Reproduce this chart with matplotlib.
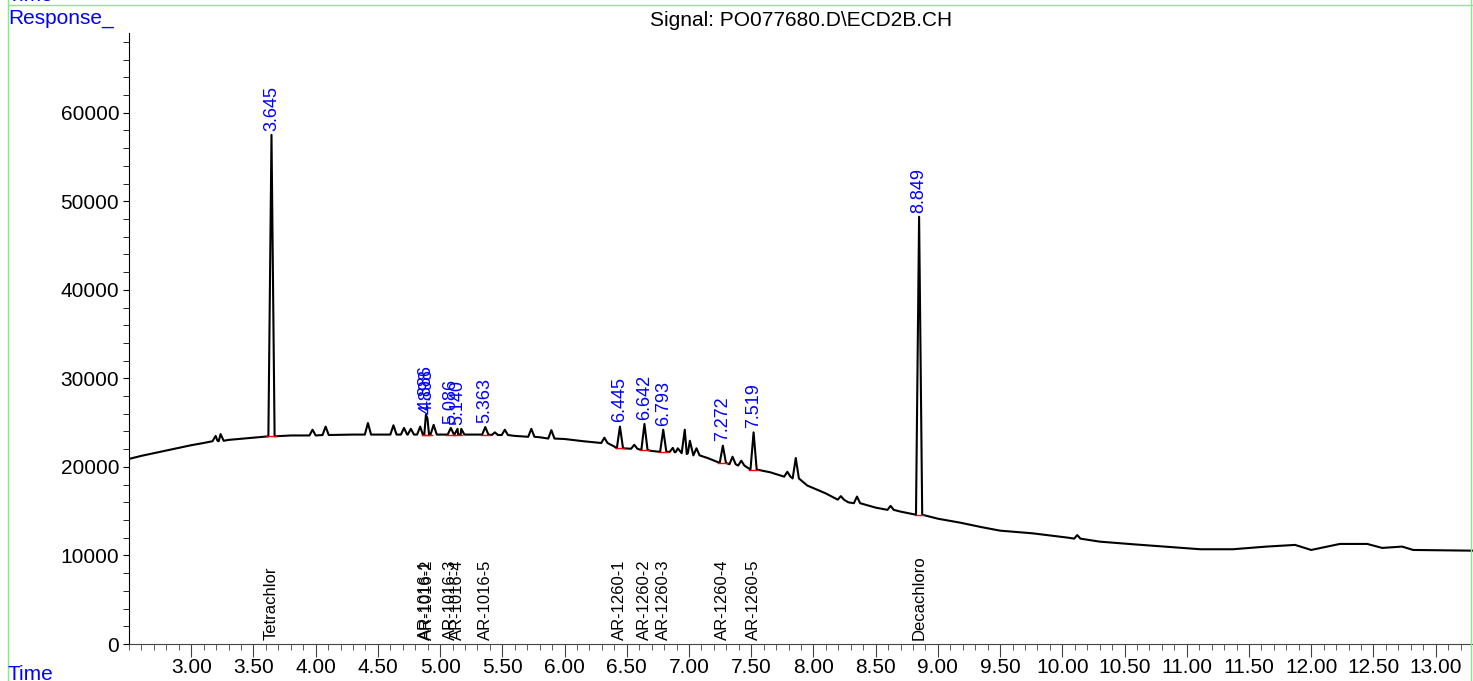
import numpy as np
import matplotlib
matplotlib.use("Agg")
import matplotlib.pyplot as plt
from matplotlib.lines import Line2D
from matplotlib.ticker import MultipleLocator, FixedLocator, FormatStrFormatter

plt.rcParams['font.family'] = ['Liberation Sans', 'DejaVu Sans']

# baseline of the trace (time in min, response)
base_t = [2.50, 2.60, 2.70, 2.80, 2.90, 3.00, 3.10, 3.30, 3.50, 3.80, 4.30, 5.00,
          5.60, 5.80, 6.00, 6.15, 6.30, 6.40, 6.70, 7.15, 7.45, 7.65, 7.95, 8.10,
          8.28, 8.50, 8.70, 9.00, 9.18, 9.35, 9.50, 9.76, 10.05, 10.30, 10.57,
          11.11, 11.37, 11.64, 11.87, 12.00, 12.23, 12.45, 12.57, 12.73, 12.82, 13.30]
base_v = [20900, 21250, 21550, 21850, 22150, 22450, 22700, 23050, 23300, 23550, 23650, 23650,
          23500, 23350, 23150, 22900, 22650, 22300, 21800, 21000, 20100, 19400, 17900, 17000,
          16000, 15400, 14950, 14150, 13700, 13200, 12800, 12500, 12000, 11560, 11260,
          10700, 10700, 11000, 11190, 10620, 11300, 11300, 10850, 11000, 10620, 10540]

# small unlabelled peaks: time, apex, foot level
minor_t = [3.196, 3.236, 3.975, 4.080, 4.420, 4.625, 4.710, 4.765, 4.840, 4.948,
           5.170, 5.440, 5.520, 5.733, 5.894, 6.320, 6.560, 6.870, 6.910, 6.966,
           7.007, 7.060, 7.350, 7.420, 7.790, 7.858, 8.220, 8.350, 8.620, 10.120]
minor_top = [23500, 23700, 24200, 24550, 24950, 24700, 24400, 24300, 24550, 24750,
             24300, 23900, 24200, 24300, 24150, 23300, 22500, 22150, 22100, 24200,
             22950, 22100, 21150, 20700, 19450, 21000, 16700, 16650, 15600, 12300]
minor_base = [22900, 22950, 23550, 23600, 23650, 23650, 23650, 23650, 23650, 23650,
              23650, 23600, 23600, 23400, 23200, 22700, 22050, 21700, 21650, 21550,
              21450, 21300, 20300, 20150, 18900, 18700, 16300, 15900, 15150, 11900]

# identified peaks
peak_t = [3.645, 4.886, 4.898, 5.086, 5.140, 5.363, 6.445, 6.642, 6.793, 7.272, 7.519, 8.849]
peak_lbl = ["3.645", "4.886", "4.898", "5.086", "5.140", "5.363", "6.445", "6.642",
            "6.793", "7.272", "7.519", "8.849"]
peak_top = [57500, 25900, 25500, 24400, 24300, 24500, 24550, 24850, 24200, 22400, 23900, 48250]
peak_base = [23450, 23650, 23650, 23650, 23650, 23650, 22100, 21900, 21700, 20450, 19700, 14600]
peak_name = ["Tetrachlor", "AR-1016-1", "AR-1016-2", "AR-1016-3", "AR-1016-4", "AR-1016-5",
             "AR-1260-1", "AR-1260-2", "AR-1260-3", "AR-1260-4", "AR-1260-5", "Decachloro"]

x_ticks = [3.0, 3.5, 4.0, 4.5, 5.0, 5.5, 6.0, 6.5, 7.0, 7.5, 8.0, 8.5, 9.0, 9.5,
           10.0, 10.5, 11.0, 11.5, 12.0, 12.5, 13.0]

half = 0.025

# assemble trace: baseline points + each peak as foot / apex / foot
all_pk_t = minor_t + peak_t
all_pk_top = minor_top + peak_top
all_pk_base = minor_base + peak_base
pts = []
for t, v in zip(base_t, base_v):
    if all(abs(t - p) > half for p in all_pk_t):
        pts.append((t, v))
for t, top, b in zip(all_pk_t, all_pk_top, all_pk_base):
    pts += [(t - half, b), (t, top), (t + half, b)]
pts.sort()
tr_t = [p[0] for p in pts]
tr_v = [p[1] for p in pts]

fig = plt.figure(figsize=(14.73, 6.81), dpi=100)
ax = fig.add_axes([129/1473, 37/681, 1344/1473, 611/681])

ax.plot(tr_t, tr_v, color='black', lw=1.5)
for t, b in zip(peak_t, peak_base):
    ax.plot([t - 0.035, t + 0.035], [b, b], color='red', lw=1.0)

for t, top, lbl in zip(peak_t, peak_top, peak_lbl):
    ax.annotate(lbl, xy=(t, top), xytext=(0, 3), textcoords='offset points',
                rotation=90, ha='center', va='bottom', color='blue', fontsize=13)
for t, name in zip(peak_t, peak_name):
    ax.annotate(name, xy=(t, 0), xytext=(0, 3), textcoords='offset points',
                rotation=90, ha='center', va='bottom', color='black', fontsize=12)

ax.set_xlim(2.5, 13.3)
ax.set_ylim(0, 69000)
ax.xaxis.set_major_locator(FixedLocator(x_ticks))
ax.xaxis.set_minor_locator(MultipleLocator(0.1))
ax.xaxis.set_major_formatter(FormatStrFormatter('%.2f'))
ax.yaxis.set_major_locator(MultipleLocator(10000))
ax.yaxis.set_minor_locator(MultipleLocator(2000))
ax.spines['top'].set_visible(False)
ax.spines['right'].set_visible(False)
ax.spines['bottom'].set_color('#444444')
ax.tick_params(axis='x', which='major', length=9, pad=1, labelsize=15, color='#444444')
ax.tick_params(axis='x', which='minor', length=4.5, color='#444444')
ax.tick_params(axis='y', which='major', length=4, pad=3, labelsize=15)
ax.tick_params(axis='y', which='minor', length=4)

fig.text(801/1473, 1 - 20/681, 'Signal: PO077680.D\\ECD2B.CH', ha='center', va='center', fontsize=15)
fig.text(8/1473, 1 - 19/681, 'Response_', ha='left', va='center', color='blue', fontsize=15)
fig.text(8/1473, 7/681, 'Time', ha='left', va='center', color='blue', fontsize=15)
fig.text(8/1473, 1 - 5/681, 'Time', ha='left', va='bottom', color='blue', fontsize=15)

green = '#80ee80'
fig.add_artist(Line2D([8/1473, 1], [1 - 5/681, 1 - 5/681], color=green, lw=1))
fig.add_artist(Line2D([8/1473, 8/1473], [0, 1], color=green, lw=1))
fig.add_artist(Line2D([1471/1473, 1471/1473], [0, 1], color=green, lw=1))

fig.savefig("out.png", dpi=100)
